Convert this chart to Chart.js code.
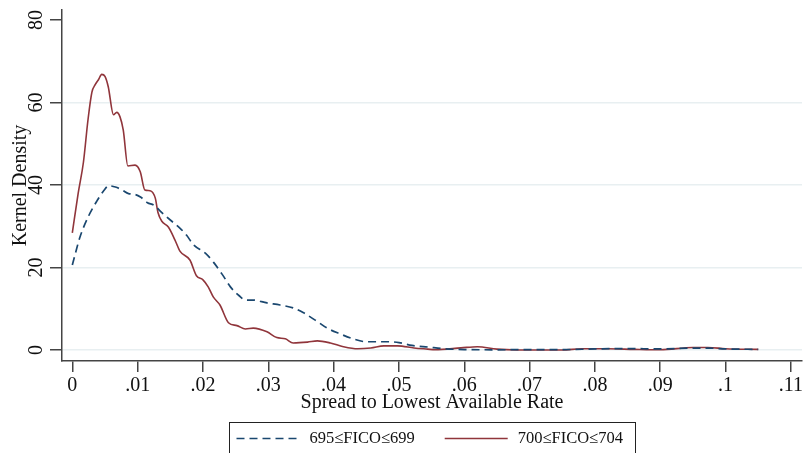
<!DOCTYPE html>
<html>
<head>
<meta charset="utf-8">
<script src="https://cdn.jsdelivr.net/npm/chart.js@4/dist/chart.umd.min.js"></script>
<style>
html,body{margin:0;padding:0;background:#fff;}
canvas{display:block;}
</style>
</head>
<body>
<canvas id="c" width="805" height="453"></canvas>
<script>
// ---- data ----
const seriesLabels = ['695\u2264FICO\u2264699', '700\u2264FICO\u2264704'];

const lowX = [0, .0012, .0025, .0038, .0048, .0056, .0066, .0076, .0086, .0096, .0105, .0115, .0125, .0135, .015, .0165, .0175, .0185, .0204, .0216, .023, .0242, .0255, .0265, .0276, .0298, .0318, .0338, .0354, .0375, .039, .041, .043, .045, .048, .050, .052, .0545, .057, .06, .065, .07, .075, .08, .085, .09, .095, .0975, .1, .105];
const lowY = [20.6, 27.5, 32.5, 36.2, 38.6, 39.8, 39.5, 38.8, 37.9, 37.7, 37.0, 35.7, 35.1, 33.6, 31.5, 29.5, 27.8, 25.6, 23.4, 21.3, 18.2, 15.3, 13.2, 12.1, 12.1, 11.4, 10.9, 10.2, 9.0, 6.9, 5.3, 3.9, 2.7, 2.0, 2.0, 1.8, 1.1, 0.7, 0.3, 0.1, 0.05, 0.1, 0.1, 0.25, 0.35, 0.25, 0.45, 0.45, 0.25, 0.15];

const highX = [0, .0009, .0017, .0024, .003, .0035, .004, .0045, .005, .0055, .0063, .0068, .0073, .0078, .0085, .0096, .0104, .0111, .0119, .0127, .0131, .0137, .0147, .0157, .0165, .018, .019, .02, .0208, .0216, .0226, .0239, .0252, .0265, .0277, .0298, .0313, .0326, .0338, .036, .0375, .0395, .0415, .0437, .0457, .0477, .0498, .0523, .0544, .0555, .0595, .062, .065, .068, .075, .078, .082, .086, .09, .095, .0973, .1, .105];
const highY = [28.4, 38, 45.5, 55.8, 62.5, 64.3, 65.5, 66.8, 66.3, 63.8, 57, 57.6, 56.5, 53.3, 44.6, 44.8, 43.2, 38.8, 38.6, 36.8, 33.4, 31.2, 29.8, 26.7, 23.9, 21.8, 18, 17, 15.3, 12.8, 10.9, 6.6, 5.9, 5.1, 5.3, 4.4, 3.0, 2.7, 1.7, 1.9, 2.2, 1.7, 0.8, 0.3, 0.5, 1.0, 1.0, 0.5, 0.2, 0.05, 0.5, 0.8, 0.2, 0.0, 0.0, 0.3, 0.3, 0.15, 0.05, 0.6, 0.6, 0.3, 0.15];

const xTickValues = [0, .01, .02, .03, .04, .05, .06, .07, .08, .09, .1, .11];
const xTickLabels = ['0', '.01', '.02', '.03', '.04', '.05', '.06', '.07', '.08', '.09', '.1', '.11'];
const yTickValues = [0, 20, 40, 60, 80];
const yTickLabels = ['0', '20', '40', '60', '80'];

const xTitle = 'Spread to Lowest Available Rate';
const yTitle = 'Kernel Density';

// ---- chart ----
const SERIF = "'Liberation Serif', 'Times New Roman', serif";
const NAVY = '#1a476f';
const MAROON = '#90353b';
const AXIS = '#444444';
const GRID = '#e8eff1';

const pts = (xs, ys) => xs.map((x, i) => ({x: x, y: ys[i]}));

const boxLegend = {
  id: 'boxLegend',
  afterDraw(chart) {
    const ctx = chart.ctx;
    const ca = chart.chartArea;
    const fontSize = 16.5;
    ctx.save();
    ctx.font = fontSize + 'px ' + SERIF;
    const lineLen = 63, gap = 10, itemSpace = 30, padL = 7, padR = 13;
    const items = chart.data.datasets.map(ds => ({
      ds: ds, w: lineLen + gap + ctx.measureText(ds.label).width
    }));
    const total = items.reduce((s, it) => s + it.w, 0) + itemSpace * (items.length - 1);
    const boxW = Math.round(total + padL + padR);
    const cx = (ca.left + ca.right) / 2;
    const boxL = Math.round(cx - boxW / 2) + 0.5;
    const boxT = 422.5;
    ctx.strokeStyle = '#222';
    ctx.lineWidth = 1;
    ctx.strokeRect(boxL, boxT, boxW, 60);
    let x = boxL + padL;
    const cy = 438.5;
    items.forEach(it => {
      ctx.strokeStyle = it.ds.borderColor;
      ctx.lineWidth = it.ds.borderWidth;
      ctx.setLineDash(it.ds.borderDash || []);
      ctx.beginPath();
      ctx.moveTo(x, cy);
      ctx.lineTo(x + lineLen, cy);
      ctx.stroke();
      ctx.setLineDash([]);
      ctx.fillStyle = '#111';
      ctx.textBaseline = 'middle';
      ctx.textAlign = 'left';
      ctx.fillText(it.ds.label, x + lineLen + gap, cy);
      x += it.w + itemSpace;
    });
    ctx.restore();
  }
};

new Chart(document.getElementById('c'), {
  type: 'line',
  data: {
    datasets: [
      {
        label: seriesLabels[0],
        data: pts(lowX, lowY),
        borderColor: NAVY,
        borderWidth: 1.7,
        borderDash: [8, 5],
        pointRadius: 0,
        fill: false,
        cubicInterpolationMode: 'monotone'
      },
      {
        label: seriesLabels[1],
        data: pts(highX, highY),
        borderColor: MAROON,
        borderWidth: 1.6,
        pointRadius: 0,
        fill: false,
        cubicInterpolationMode: 'monotone'
      }
    ]
  },
  options: {
    responsive: false,
    animation: false,
    layout: {padding: {top: 10, right: 3, left: 0, bottom: 0}},
    plugins: {
      legend: {display: false},
      tooltip: {enabled: false}
    },
    scales: {
      x: {
        type: 'linear',
        min: -0.00158,
        max: 0.1117,
        afterBuildTicks: s => { s.ticks = xTickValues.map(v => ({value: v})); },
        afterFit: s => { s.height = 92; s.paddingLeft = 0; s.paddingRight = 0; },
        ticks: {
          callback: (v, i) => xTickLabels[i],
          font: {family: SERIF, size: 20},
          color: '#111',
          padding: 2,
          maxRotation: 0,
          autoSkip: false
        },
        grid: {
          drawOnChartArea: false,
          drawTicks: true,
          tickLength: 11,
          tickColor: AXIS,
          lineWidth: 1.5
        },
        border: {display: true, color: AXIS, width: 1.5},
        title: {
          display: true,
          text: xTitle,
          font: {family: SERIF, size: 20},
          color: '#111',
          padding: {top: 0, bottom: 38}
        }
      },
      y: {
        type: 'linear',
        min: -2.67,
        max: 82.4,
        afterBuildTicks: s => { s.ticks = yTickValues.map(v => ({value: v})); },
        afterFit: s => { s.width = 62; s.paddingTop = 0; s.paddingBottom = 0; },
        ticks: {
          callback: (v, i) => yTickLabels[i],
          font: {family: SERIF, size: 20},
          color: '#111',
          minRotation: 90,
          maxRotation: 90,
          crossAlign: 'center',
          padding: 3
        },
        grid: {
          color: ctx => (ctx.tick && ctx.tick.value === 80) ? 'rgba(0,0,0,0)' : GRID,
          lineWidth: 1.5,
          drawTicks: true,
          tickLength: 12,
          tickColor: AXIS
        },
        border: {display: true, color: AXIS, width: 1.5},
        title: {
          display: true,
          text: yTitle,
          font: {family: SERIF, size: 20},
          color: '#111',
          padding: {top: 9, bottom: 0}
        }
      }
    }
  },
  plugins: [boxLegend]
});
</script>
</body>
</html>
